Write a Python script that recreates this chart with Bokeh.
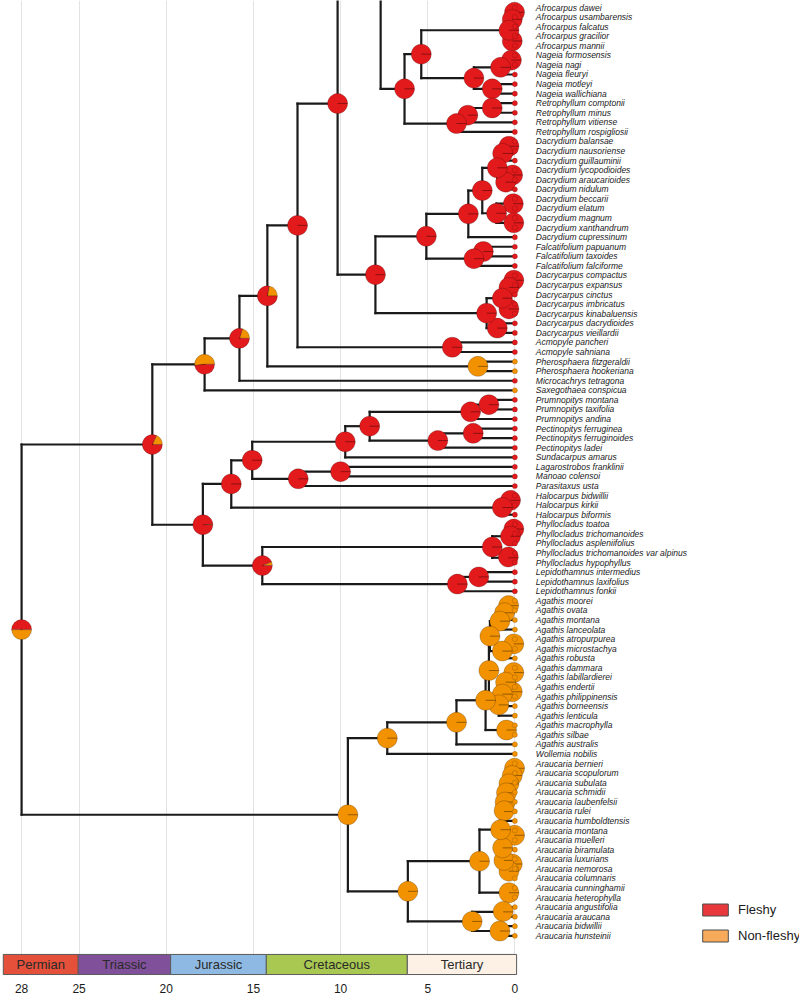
import math
from bokeh.plotting import figure
from bokeh.models import Range1d, FixedTicker, Legend, LegendItem
from bokeh.core.properties import value
from bokeh.embed import file_html
from bokeh.resources import INLINE

# ---------------- data ----------------
TIP_NAMES = [
    "Afrocarpus dawei", "Afrocarpus usambarensis", "Afrocarpus falcatus", "Afrocarpus gracilior",
    "Afrocarpus mannii", "Nageia formosensis", "Nageia nagi", "Nageia fleuryi", "Nageia motleyi",
    "Nageia wallichiana", "Retrophyllum comptonii", "Retrophyllum minus", "Retrophyllum vitiense",
    "Retrophyllum rospigliosii", "Dacrydium balansae", "Dacrydium nausoriense", "Dacrydium guillauminii",
    "Dacrydium lycopodioides", "Dacrydium araucarioides", "Dacrydium nidulum", "Dacrydium beccarii",
    "Dacrydium elatum", "Dacrydium magnum", "Dacrydium xanthandrum", "Dacrydium cupressinum",
    "Falcatifolium papuanum", "Falcatifolium taxoides", "Falcatifolium falciforme",
    "Dacrycarpus compactus", "Dacrycarpus expansus", "Dacrycarpus cinctus", "Dacrycarpus imbricatus",
    "Dacrycarpus kinabaluensis", "Dacrycarpus dacrydioides", "Dacrycarpus vieillardii",
    "Acmopyle pancheri", "Acmopyle sahniana", "Pherosphaera fitzgeraldii", "Pherosphaera hookeriana",
    "Microcachrys tetragona", "Saxegothaea conspicua", "Prumnopitys montana", "Prumnopitys taxifolia",
    "Prumnopitys andina", "Pectinopitys ferruginea", "Pectinopitys ferruginoides", "Pectinopitys ladei",
    "Sundacarpus amarus", "Lagarostrobos franklinii", "Manoao colensoi", "Parasitaxus usta",
    "Halocarpus bidwillii", "Halocarpus kirkii", "Halocarpus biformis", "Phyllocladus toatoa",
    "Phyllocladus trichomanoides", "Phyllocladus aspleniifolius",
    "Phyllocladus trichomanoides var alpinus", "Phyllocladus hypophyllus",
    "Lepidothamnus intermedius", "Lepidothamnus laxifolius", "Lepidothamnus fonkii",
    "Agathis moorei", "Agathis ovata", "Agathis montana", "Agathis lanceolata", "Agathis atropurpurea",
    "Agathis microstachya", "Agathis robusta", "Agathis dammara", "Agathis labillardierei",
    "Agathis endertii", "Agathis philippinensis", "Agathis borneensis", "Agathis lenticula",
    "Agathis macrophylla", "Agathis silbae", "Agathis australis", "Wollemia nobilis",
    "Araucaria bernieri", "Araucaria scopulorum", "Araucaria subulata", "Araucaria schmidii",
    "Araucaria laubenfelsii", "Araucaria rulei", "Araucaria humboldtensis", "Araucaria montana",
    "Araucaria muelleri", "Araucaria biramulata", "Araucaria luxurians", "Araucaria nemorosa",
    "Araucaria columnaris", "Araucaria cunninghamii", "Araucaria heterophylla",
    "Araucaria angustifolia", "Araucaria araucana", "Araucaria bidwillii", "Araucaria hunsteinii",
]
NONFLESHY_TIPS = ["Pherosphaera fitzgeraldii", "Pherosphaera hookeriana", "Saxegothaea conspicua"] + \
    TIP_NAMES[TIP_NAMES.index("Agathis moorei"):]

# clade continuing above the top edge of the picture (its position in tip rows)
STUB_Y = -23.2

# topology (displayed order, top to bottom)
AFRO = "(((Afrocarpus_dawei,Afrocarpus_usambarensis)af1,Afrocarpus_falcatus)af2,(Afrocarpus_gracilior,Afrocarpus_mannii)af3)af4"
NAGEIA = "(((Nageia_formosensis,Nageia_nagi)ng1,Nageia_fleuryi)ng2,(Nageia_motleyi,Nageia_wallichiana)ng3)ng4"
RETRO = "(((Retrophyllum_comptonii,Retrophyllum_minus)rt1,Retrophyllum_vitiense)rt2,Retrophyllum_rospigliosii)rt3"
DACRYDIUM = ("(((((Dacrydium_balansae,Dacrydium_nausoriense)dc1,Dacrydium_guillauminii)dc2,"
             "((Dacrydium_lycopodioides,Dacrydium_araucarioides)dc3,Dacrydium_nidulum)dc4)dc5,"
             "((Dacrydium_beccarii,Dacrydium_elatum)dc6,(Dacrydium_magnum,Dacrydium_xanthandrum)dc7)dc8)dc9,"
             "Dacrydium_cupressinum)dc10")
FALC = "((Falcatifolium_papuanum,Falcatifolium_taxoides)fa1,Falcatifolium_falciforme)fa2"
DACRYC = ("((((Dacrycarpus_compactus,Dacrycarpus_expansus)dy1,Dacrycarpus_cinctus)dy2,"
          "(Dacrycarpus_imbricatus,Dacrycarpus_kinabaluensis)dy3)dy4,"
          "(Dacrycarpus_dacrydioides,Dacrycarpus_vieillardii)dy5)dy6")
PRUM = "((Prumnopitys_montana,Prumnopitys_taxifolia)pr1,Prumnopitys_andina)pr2"
PECT = "((Pectinopitys_ferruginea,Pectinopitys_ferruginoides)pe1,Pectinopitys_ladei)pe2"
HALO = "((Halocarpus_bidwillii,Halocarpus_kirkii)ha1,Halocarpus_biformis)ha2"
PHYL = ("(((Phyllocladus_toatoa,Phyllocladus_trichomanoides)py1,Phyllocladus_aspleniifolius)py2,"
        "(Phyllocladus_trichomanoides_var_alpinus,Phyllocladus_hypophyllus)py3)py4")
LEPI = "((Lepidothamnus_intermedius,Lepidothamnus_laxifolius)le1,Lepidothamnus_fonkii)le2"
AG_A = "(((Agathis_moorei,Agathis_ovata)ag1,Agathis_montana)ag2,Agathis_lanceolata)ag3"
AG_B = "((Agathis_atropurpurea,Agathis_microstachya)ag4,Agathis_robusta)ag5"
AG_C = ("((((Agathis_dammara,Agathis_labillardierei)ag7,(Agathis_endertii,Agathis_philippinensis)ag8)ag9,"
        "Agathis_borneensis)ag10,Agathis_lenticula)ag11")
AGATHIS = f"(((({AG_A},{AG_B})ag6,{AG_C})ag12,(Agathis_macrophylla,Agathis_silbae)ag13)ag14,Agathis_australis)ag15"
AR_N1 = ("((((((Araucaria_bernieri,Araucaria_scopulorum)ar1,Araucaria_subulata)ar2,Araucaria_schmidii)ar3,"
         "Araucaria_laubenfelsii)ar4,Araucaria_rulei)ar5,Araucaria_humboldtensis)ar6")
AR_N2 = ("((Araucaria_montana,Araucaria_muelleri)ar7,(Araucaria_biramulata,((Araucaria_luxurians,"
         "Araucaria_nemorosa)ar8,Araucaria_columnaris)ar9)ar10)ar11")
AR_UP = f"(({AR_N1},{AR_N2})ar12,(Araucaria_cunninghamii,Araucaria_heterophylla)ar13)ar14"
AR_LOW = "((Araucaria_angustifolia,Araucaria_araucana)ar15,(Araucaria_bidwillii,Araucaria_hunsteinii)ar16)ar17"

PODO_TOP = f"((STUB,(({AFRO},{NAGEIA})afn,{RETRO})an)p1,(({DACRYDIUM},{FALC})df,{DACRYC})d)a"
PODO = (f"((((({PODO_TOP},(Acmopyle_pancheri,Acmopyle_sahniana)ac)b,"
        f"(Pherosphaera_fitzgeraldii,Pherosphaera_hookeriana)ph)c,Microcachrys_tetragona)e,Saxegothaea_conspicua)f,"
        f"((((({PRUM},{PECT})pp,Sundacarpus_amarus)l,((Lagarostrobos_franklinii,Manoao_colensoi)lm,Parasitaxus_usta)m)k,"
        f"{HALO})i,({PHYL},{LEPI})j)h)g")
ARAU = f"(({AGATHIS},Wollemia_nobilis)aw,({AR_UP},{AR_LOW})ar18)r"
NEWICK = f"({PODO},{ARAU})root"

# node ages (x 10 Myr before present)
NODE_AGE = {
    "root": 28.3, "g": 20.8, "f": 17.8, "e": 15.8, "c": 14.2, "b": 12.47, "a": 10.17, "p1": 7.7,
    "an": 6.33, "afn": 5.37, "af4": 0.34, "af1": 0.02, "af2": 0.15, "af3": 0.15,
    "ng4": 2.35, "ng1": 0.2, "ng2": 0.82, "ng3": 1.3, "rt3": 3.35, "rt1": 1.3, "rt2": 2.7,
    "d": 8.0, "df": 5.08, "dc10": 2.67, "dc9": 1.87, "dc5": 1.01, "dc2": 0.7, "dc1": 0.34,
    "dc4": 0.53, "dc3": 0.13, "dc8": 1.05, "dc6": 0.09, "dc7": 0.06, "fa2": 2.35, "fa1": 1.81,
    "dy6": 1.62, "dy4": 0.72, "dy2": 0.34, "dy1": 0.06, "dy3": 0.34, "dy5": 1.01,
    "ac": 3.59, "ph": 2.12, "h": 17.9, "i": 16.27, "k": 15.07, "l": 9.73, "pp": 8.33,
    "pr2": 2.54, "pr1": 1.49, "pe2": 4.42, "pe1": 2.39, "m": 12.43, "lm": 10.0,
    "ha2": 0.72, "ha1": 0.25, "j": 14.49, "py4": 1.3, "py2": 0.25, "py1": 0.06, "py3": 0.38,
    "le2": 3.3, "le1": 2.07, "r": 9.58, "aw": 7.32, "ag15": 3.35, "ag14": 1.68, "ag12": 1.49,
    "ag6": 1.43, "ag3": 0.86, "ag2": 0.59, "ag1": 0.36, "ag5": 0.72, "ag4": 0.06, "ag11": 0.92,
    "ag10": 0.72, "ag9": 0.53, "ag7": 0.06, "ag8": 0.15, "ag13": 0.48, "ar18": 6.14,
    "ar14": 2.03, "ar12": 0.82, "ar6": 0.62, "ar5": 0.56, "ar4": 0.48, "ar3": 0.34, "ar2": 0.15,
    "ar1": 0.02, "ar11": 0.7, "ar7": 0.02, "ar10": 0.63, "ar9": 0.34, "ar8": 0.15, "ar13": 0.34,
    "ar17": 2.45, "ar15": 0.67, "ar16": 0.86,
}
# probability of non-fleshy state at nodes with mixed reconstructions
NODE_NONFLESHY = {"root": 0.5, "g": 0.18, "f": 0.52, "e": 0.2, "c": 0.22, "h": 0.01, "j": 0.06}

PERIODS = ["Permian", "Triassic", "Jurassic", "Cretaceous", "Tertiary"]
PERIOD_START = [29.35, 25.05, 19.75, 14.26, 6.17]
PERIOD_END = [25.05, 19.75, 14.26, 6.17, -0.1]
PERIOD_COLORS = ["#E4503A", "#80509A", "#8EB9E2", "#A9C852", "#FDF0E4"]

TICKS = [28.3, 25, 20, 15, 10, 5, 0]
TICK_LABELS = {28.3: "28"}

LEGEND_LABELS = ["Fleshy", "Non-fleshy"]
LEGEND_COLORS = ["#E8383B", "#F6AA5A"]

RED = "#E31A1C"
ORANGE = "#F29200"

# ---------------- tree parsing / layout ----------------
def parse_newick(s):
    pos = 0

    def read_name():
        nonlocal pos
        st = pos
        while pos < len(s) and s[pos] not in ",()":
            pos += 1
        return s[st:pos]

    def node():
        nonlocal pos
        if s[pos] == "(":
            pos += 1
            kids = [node()]
            while s[pos] == ",":
                pos += 1
                kids.append(node())
            pos += 1  # ')'
            return {"name": read_name(), "children": kids}
        return {"name": read_name(), "children": []}

    return node()


tree = parse_newick(NEWICK)
tip_index = {n: i + 1 for i, n in enumerate(TIP_NAMES)}


def layout(nd):
    if not nd["children"]:
        nm = nd["name"]
        nd["age"] = 0.0
        if nm == "STUB":
            nd["y"] = STUB_Y
            nd["states"] = []
        else:
            label = nm.replace("_", " ")
            nd["label"] = label
            nd["y"] = tip_index[label]
            nd["states"] = [1.0 if label in NONFLESHY_TIPS else 0.0]
        return
    for ch in nd["children"]:
        layout(ch)
    nd["age"] = NODE_AGE[nd["name"]]
    nd["y"] = (nd["children"][0]["y"] + nd["children"][-1]["y"]) / 2.0
    st = []
    for ch in nd["children"]:
        st += ch["states"]
    nd["states"] = st


layout(tree)

seg_x0, seg_x1, seg_y0, seg_y1 = [], [], [], []
pie_x, pie_y, pie_s, pie_e, pie_c = [], [], [], [], []
tip_x, tip_y, tip_lab, tip_col = [], [], [], []


def collect(nd):
    if not nd["children"]:
        if "label" in nd:
            tip_x.append(0.0)
            tip_y.append(nd["y"])
            tip_lab.append(nd["label"])
            tip_col.append(ORANGE if nd["states"][0] == 1.0 else RED)
        return
    kids = nd["children"]
    seg_x0.append(nd["age"]); seg_x1.append(nd["age"])
    seg_y0.append(kids[0]["y"]); seg_y1.append(kids[-1]["y"])
    for ch in kids:
        seg_x0.append(nd["age"]); seg_x1.append(ch["age"])
        seg_y0.append(ch["y"]); seg_y1.append(ch["y"])
        collect(ch)
    nm = nd["name"]
    if nm in NODE_NONFLESHY:
        p = NODE_NONFLESHY[nm]
    else:
        p = sum(nd["states"]) / len(nd["states"])
    rot = math.pi if nm == "root" else 0.0
    full = 2 * math.pi - 1e-4
    if p > 0:
        pie_x.append(nd["age"]); pie_y.append(nd["y"])
        pie_s.append(rot); pie_e.append(rot + (full if p >= 1 else 2 * math.pi * p))
        pie_c.append(ORANGE)
    if p < 1:
        pie_x.append(nd["age"]); pie_y.append(nd["y"])
        pie_s.append(rot + 2 * math.pi * p); pie_e.append(rot + (full if p <= 0 else 2 * math.pi))
        pie_c.append(RED)


collect(tree)

# ---------------- figure ----------------
p = figure(width=799, height=997,
           x_range=Range1d(29.51, -16.33), y_range=Range1d(102.15, 0.2685),
           output_backend="svg", toolbar_location=None, y_axis_location=None,
           min_border_left=0, min_border_right=0, min_border_top=0, min_border_bottom=22)
p.outline_line_color = None
p.background_fill_color = "white"

p.xgrid.ticker = FixedTicker(ticks=TICKS)
p.xgrid.grid_line_color = "#e3e3e3"
p.xgrid.grid_line_width = 1
p.ygrid.grid_line_color = None

ax = p.xaxis[0]
ax.ticker = FixedTicker(ticks=TICKS)
ax.major_label_overrides = TICK_LABELS
ax.axis_line_color = None
ax.major_tick_line_color = None
ax.minor_tick_line_color = None
ax.major_tick_out = 0
ax.major_label_standoff = 8
ax.major_label_text_font = "Liberation Sans"
ax.major_label_text_font_size = "12px"
ax.major_label_text_color = "#1a1a1a"

# geological periods
bar_top, bar_bottom = 99.95, 102.05
p.quad(left=PERIOD_START, right=PERIOD_END, top=[bar_top] * 5, bottom=[bar_bottom] * 5,
       fill_color=PERIOD_COLORS, line_color="#5a5a5a", line_width=1)
p.text(x=[(a + b) / 2 for a, b in zip(PERIOD_START, PERIOD_END)], y=[(bar_top + bar_bottom) / 2] * 5,
       text=PERIODS, text_align="center", text_baseline="middle",
       text_font=value("Liberation Sans"), text_font_size="13px", text_color="#2a2a2a")

# branches
p.segment(x0=seg_x0, y0=seg_y0, x1=seg_x1, y1=seg_y1, line_color="#1a1a1a",
          line_width=2.2, line_cap="square")

# ancestral state pies
p.wedge(x=pie_x, y=pie_y, radius=10, radius_units="screen", start_angle=pie_s, end_angle=pie_e,
        fill_color=pie_c, line_color="black", line_alpha=0.3, line_width=0.7)

# tips
p.scatter(x=tip_x, y=tip_y, size=5.2, marker="circle", fill_color=tip_col,
          line_color="black", line_alpha=0.3, line_width=0.5)
p.text(x=tip_x, y=tip_y, text=tip_lab, x_offset=21, text_baseline="middle",
       text_font=value("Liberation Sans"), text_font_style="italic",
       text_font_size="8.5px", text_color="#1a1a1a")

# legend (keys only: the glyphs carry no visible data)
leg_r = []
nan = float("nan")
for c in LEGEND_COLORS:
    leg_r.append(p.quad(left=[nan], right=[nan], top=[nan], bottom=[nan], fill_color=c,
                        line_color="#4d4d4d", line_width=1))
legend = Legend(items=[LegendItem(label=l, renderers=[r]) for l, r in zip(LEGEND_LABELS, leg_r)],
                location=(699, 32), orientation="vertical", glyph_width=32, glyph_height=15,
                label_standoff=7, spacing=11, padding=0, margin=0, label_height=15,
                border_line_alpha=0, background_fill_alpha=0,
                label_text_font="Liberation Sans", label_text_font_size="13px",
                label_text_color="#1a1a1a")
p.add_layout(legend)

open("out.html", "w").write(file_html(p, INLINE))
